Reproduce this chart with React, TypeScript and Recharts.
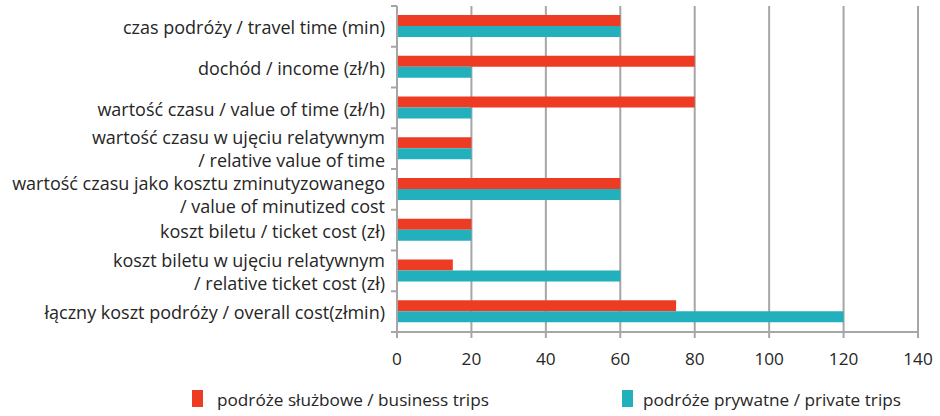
import React from "react";
import { BarChart, Bar, XAxis, YAxis, CartesianGrid, Legend } from "recharts";

const categories = [
  "czas podróży / travel time (min)",
  "dochód / income (zł/h)",
  "wartość czasu / value of time (zł/h)",
  "wartość czasu w ujęciu relatywnym\n/ relative value of time",
  "wartość czasu jako kosztu zminutyzowanego\n/ value of minutized cost",
  "koszt biletu / ticket cost (zł)",
  "koszt biletu w ujęciu relatywnym\n/ relative ticket cost (zł)",
  "łączny koszt podróży / overall cost(złmin)",
];
const businessTrips = [60, 80, 80, 20, 60, 20, 15, 75];
const privateTrips = [60, 20, 20, 20, 60, 20, 60, 120];
const xTicks = [0, 20, 40, 60, 80, 100, 120, 140];
const seriesNames = ["podróże służbowe / business trips", "podróże prywatne / private trips"];

const data = categories.map((name, i) => ({
  name,
  business: businessTrips[i],
  private: privateTrips[i],
}));

const RED = "#EE3B24";
const TEAL = "#22B0BC";
const GRID = "#A6A6A6";
const TEXT = "#262626";
const FONT = "'Open Sans', Lato, sans-serif";
const FS_Y = 18;
const FS = 17.2;

const W = 940;
const H = 416;
const M = { top: 6, right: 22, bottom: 44, left: 0 };
const XAXIS_H = 40;
const PLOT_H = H - M.top - M.bottom - XAXIS_H;
const HALF = PLOT_H / categories.length / 2;
// vertical nudge of the wrapped label of the 5th category (layout tweak)
const LABEL_NUDGE: Record<number, number> = { 4: 5 };

function YTick(props: any) {
  const { x, y, payload, index } = props;
  const lines: string[] = String(payload.value).split("\n");
  const axisX = x + 8;
  const nudge = LABEL_NUDGE[index] || 0;
  const offsets = lines.length === 1 ? [3] : [-9 + nudge, 14 + nudge];
  return (
    <g>
      <line x1={axisX - 6} x2={axisX} y1={y - HALF} y2={y - HALF} stroke={GRID} strokeWidth={2} />
      {index === categories.length - 1 && (
        <line x1={axisX - 6} x2={axisX} y1={y + HALF} y2={y + HALF} stroke={GRID} strokeWidth={2} />
      )}
      {lines.map((t, i) => (
        <text
          key={i}
          x={x - 4}
          y={y + offsets[i]}
          textAnchor="end"
          dominantBaseline="middle"
          fill={TEXT}
          fontSize={FS_Y}
          fontFamily={FONT}
        >
          {t}
        </text>
      ))}
    </g>
  );
}

function LegendContent() {
  const items = [
    { color: RED, left: 192, textLeft: 217, label: seriesNames[0] },
    { color: TEAL, left: 622, textLeft: 643, label: seriesNames[1] },
  ];
  return (
    <div style={{ position: "relative", width: W, height: 30 }}>
      {items.map((it, i) => (
        <React.Fragment key={i}>
          <div
            style={{
              position: "absolute",
              left: it.left,
              top: 4,
              width: 11,
              height: 17,
              background: it.color,
            }}
          />
          <div
            style={{
              position: "absolute",
              left: it.textLeft,
              top: 2,
              fontFamily: FONT,
              fontSize: FS,
              color: TEXT,
              whiteSpace: "nowrap",
              lineHeight: "24px",
            }}
          >
            {it.label}
          </div>
        </React.Fragment>
      ))}
    </div>
  );
}

export default function App() {
  return (
    <div style={{ position: "absolute", left: 0, top: 0, width: W, height: H, background: "#fff" }}>
      <BarChart
        width={W}
        height={H}
        layout="vertical"
        data={data}
        margin={M}
        barGap={0}
        barSize={11}
      >
        <CartesianGrid horizontal={false} stroke={GRID} strokeWidth={2} />
        <XAxis
          type="number"
          domain={[0, 140]}
          ticks={xTicks}
          interval={0}
          height={XAXIS_H}
          axisLine={{ stroke: GRID, strokeWidth: 2 }}
          tickLine={{ stroke: GRID, strokeWidth: 2 }}
          tickSize={6}
          tickMargin={15}
          tick={{ fill: TEXT, fontSize: FS, fontFamily: FONT }}
        />
        <YAxis
          type="category"
          dataKey="name"
          width={397}
          interval={0}
          axisLine={{ stroke: GRID, strokeWidth: 2 }}
          tickLine={false}
          tickSize={6}
          tickMargin={2}
          tick={<YTick />}
        />
        <Bar dataKey="business" name={seriesNames[0]} fill={RED} isAnimationActive={false} />
        <Bar dataKey="private" name={seriesNames[1]} fill={TEAL} isAnimationActive={false} />
        <Legend
          layout="horizontal"
          verticalAlign="middle"
          align="center"
          content={<LegendContent />}
          wrapperStyle={{ position: "absolute", left: 0, top: 386, width: W, height: 30 }}
        />
      </BarChart>
    </div>
  );
}
